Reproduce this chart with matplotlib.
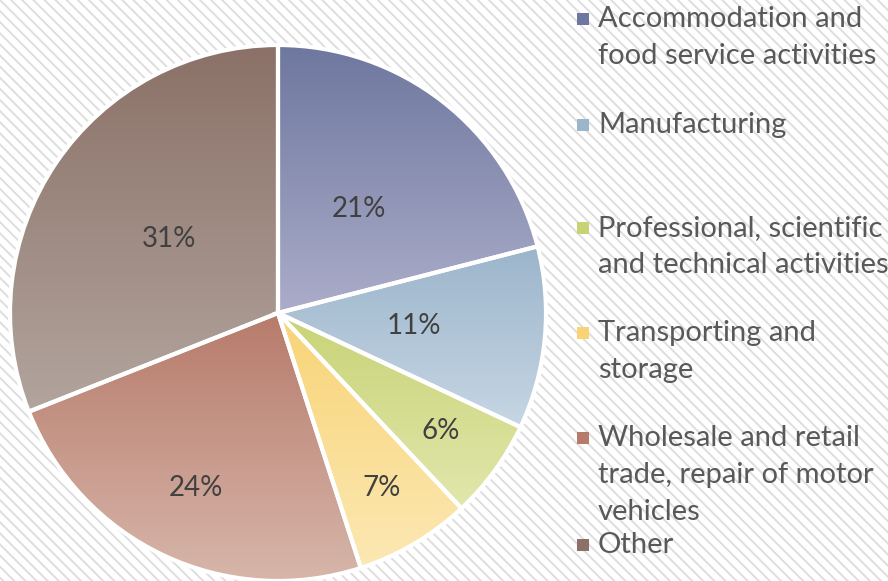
import numpy as np
import matplotlib
matplotlib.use("Agg")
import matplotlib.pyplot as plt
from matplotlib.colors import LinearSegmentedColormap
from matplotlib.patches import Rectangle

plt.rcParams['font.family'] = ['Lato', 'DejaVu Sans']
plt.rcParams['hatch.color'] = '#dedede'
plt.rcParams['hatch.linewidth'] = 1.4

# Sector shares (percent)
sectors = [
    "Accommodation and\nfood service activities",
    "Manufacturing",
    "Professional, scientific\nand technical activities",
    "Transporting and\nstorage",
    "Wholesale and retail\ntrade, repair of motor\nvehicles",
    "Other",
]
shares = [21, 11, 6, 7, 24, 31]

# top / bottom gradient colours for each slice
top_colors = ["#6e779f", "#9cb5cb", "#c8d376", "#f8d476", "#b77b6b", "#8b7167"]
bottom_colors = ["#abadc9", "#c6d6e4", "#e1e7ac", "#fce8b4", "#d7b6aa", "#b2a59e"]

# radial position of each percentage label
label_radius = [0.49, 0.51, 0.75, 0.76, 0.72, 0.49]

fig = plt.figure(figsize=(8.88, 5.81), dpi=100)

# hatched background
bg = fig.add_axes([0, 0, 1, 1])
bg.add_patch(Rectangle((0, 0), 1, 1, facecolor='white', edgecolor='#dedede',
                       hatch='\\\\\\', linewidth=0))
bg.set_xlim(0, 1)
bg.set_ylim(0, 1)
bg.axis('off')

W, H = 888, 581
cx, cy, r = 278, 313, 268
ax = fig.add_axes([(cx - r) / W, (H - cy - r) / H, 2 * r / W, 2 * r / H])

wedges, _ = ax.pie(shares, startangle=90, counterclock=False, radius=1,
                   wedgeprops=dict(edgecolor='white', linewidth=3))

for w, c0, c1 in zip(wedges, top_colors, bottom_colors):
    w.set_facecolor('none')
    bb = w.get_path().get_extents()
    cmap = LinearSegmentedColormap.from_list('g', [c1, c0])
    grad = np.linspace(0, 1, 256).reshape(-1, 1)
    im = ax.imshow(grad, cmap=cmap, origin='lower', aspect='auto',
                   extent=[bb.x0, bb.x1, bb.y0, bb.y1], zorder=0.5,
                   interpolation='bilinear')
    im.set_clip_path(w)
    w.set_zorder(1)

# percentage labels
cum = 0
for s, rr in zip(shares, label_radius):
    mid = np.deg2rad(90 - (cum + s / 2) * 3.6)
    ax.text(rr * np.cos(mid), rr * np.sin(mid), f"{s}%", ha='center',
            va='center', fontsize=20, color='#404040', zorder=3)
    cum += s

ax.set_xlim(-1, 1)
ax.set_ylim(-1, 1)
ax.set_aspect('equal')
ax.axis('off')

# legend entries, placed by hand (y = centre of first line, in pixels)
legend_y = [19, 125, 228, 333, 438, 545]
for lab, y, c0, c1 in zip(sectors, legend_y, top_colors, bottom_colors):
    fig.patches.append(Rectangle((577 / W, (H - y - 6) / H), 12 / W, 12 / H,
                                 facecolor=c0, edgecolor='none',
                                 transform=fig.transFigure, figure=fig))
    fig.text(598 / W, (H - y + 13) / H, lab, ha='left', va='top',
             fontsize=21, color='#595959', linespacing=1.52)

fig.savefig("out.png", dpi=100)
